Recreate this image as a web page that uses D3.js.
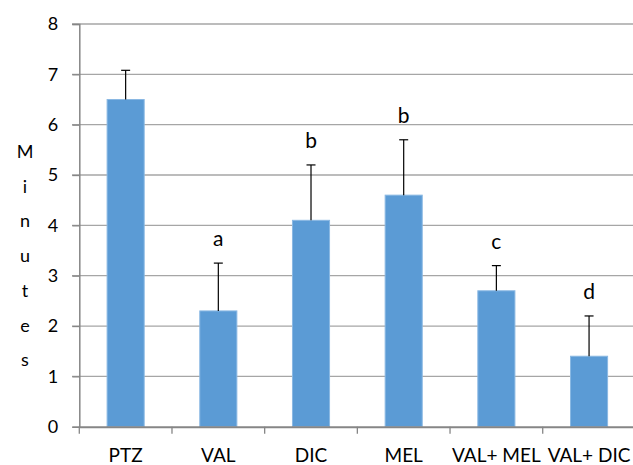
<!DOCTYPE html>
<html><head><meta charset="utf-8">
<script src="https://cdn.jsdelivr.net/npm/d3@7"></script>
<style>body{margin:0;background:#fff}svg{display:block}text{font-family:Lato,"Open Sans",sans-serif;fill:#000}</style>
</head><body><svg id="c" width="633" height="465"></svg>
<script>
const categories = ["PTZ","VAL","DIC","MEL","VAL+ MEL","VAL+ DIC"];
const values = [6.5,2.3,4.1,4.6,2.7,1.4];
const errorTops = [7.08,3.25,5.2,5.7,3.2,2.2];
const letters = ["","a","b","b","c","d"];
const yTicks = [0,1,2,3,4,5,6,7,8];
const yTitle = "Minutes";

(function(){
const svg = d3.select("#c");
const mLeft = 79.3, mRight = 635.4, mTop = 24, mBottom = 426.7;
const x = d3.scaleBand().domain(categories).range([mLeft,mRight]).paddingInner(0).paddingOuter(0);
const y = d3.scaleLinear().domain([0,8]).range([mBottom,mTop]);

// gridlines
svg.append("g").selectAll("line").data(yTicks.filter(d=>d>0)).join("line")
  .attr("x1",72).attr("x2",mRight).attr("y1",d=>y(d)).attr("y2",d=>y(d))
  .attr("stroke","#a6a6a6").attr("stroke-width",1.3);

// y axis
const ya = svg.append("g").attr("transform",`translate(${mLeft},0)`)
  .call(d3.axisLeft(y).tickValues(yTicks).tickSize(7).tickPadding(14));
ya.select(".domain").attr("stroke","#868686").attr("stroke-width",1.5);
ya.selectAll(".tick line").attr("stroke","#868686").attr("stroke-width",1.3);
ya.selectAll(".tick text").attr("font-size",18).attr("font-family","Lato,'Open Sans',sans-serif").attr("fill","#000");

// bars
svg.append("g").selectAll("rect").data(values).join("rect")
  .attr("x",(d,i)=>x(categories[i])+x.bandwidth()*0.3)
  .attr("width",x.bandwidth()*0.4)
  .attr("y",d=>y(d)).attr("height",d=>mBottom-y(d))
  .attr("fill","#5b9bd5").attr("stroke","#8ab8e3").attr("stroke-width",1);

// error bars
const eb = svg.append("g");
values.forEach((v,i)=>{
  const cx = x(categories[i])+x.bandwidth()/2;
  eb.append("line").attr("x1",cx).attr("x2",cx).attr("y1",y(v)).attr("y2",y(errorTops[i])).attr("stroke","#000").attr("stroke-width",1.2);
  eb.append("line").attr("x1",cx-4.5).attr("x2",cx+4.5).attr("y1",y(errorTops[i])).attr("y2",y(errorTops[i])).attr("stroke","#000").attr("stroke-width",1.2);
  if(letters[i]) svg.append("text").attr("x",cx).attr("y",y(errorTops[i])-17).attr("text-anchor","middle").attr("font-size",21).text(letters[i]);
});

// x axis
const xa = svg.append("g").attr("transform",`translate(0,${mBottom})`)
  .call(d3.axisBottom(x).tickSize(0).tickPadding(22));
xa.select(".domain").attr("stroke","#868686").attr("stroke-width",2);
xa.selectAll(".tick text").attr("font-size",19).attr("font-family","Lato,'Open Sans',sans-serif").attr("fill","#000");
xa.selectAll(".bound").data(d3.range(categories.length+1)).join("line").attr("class","bound")
  .attr("x1",i=>mLeft+i*x.bandwidth()).attr("x2",i=>mLeft+i*x.bandwidth())
  .attr("y1",0).attr("y2",7).attr("stroke","#868686").attr("stroke-width",1.3);

// y title, stacked letters
svg.append("g").selectAll("text").data(yTitle.split("")).join("text")
  .attr("x",25).attr("y",(d,i)=>151.7+i*34.7).attr("dy","0.35em").attr("text-anchor","middle")
  .attr("font-size",18).text(d=>d);
})();
</script></body></html>
